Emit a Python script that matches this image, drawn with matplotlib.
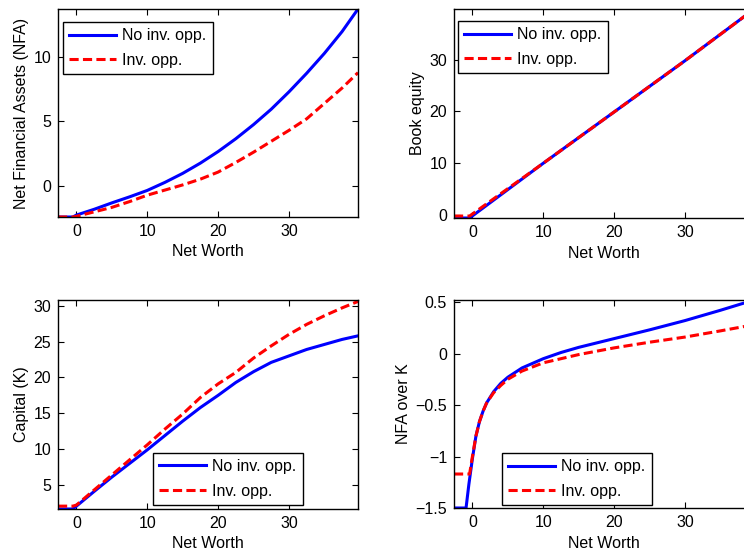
import matplotlib
matplotlib.use("Agg")
import matplotlib.pyplot as plt

plt.rcParams['font.family'] = ['Liberation Sans', 'DejaVu Sans']
plt.rcParams['font.size'] = 11.5

# net worth grid (x) for each panel
nw_nfa = [-2.6, -0.5, 0, 2.5, 5, 7.5, 10, 12.5, 15, 17.5, 20, 22.5, 25, 27.5, 30, 32.5, 35, 37.5, 39.75]
nfa_no = [-2.45, -2.45, -2.3, -1.85, -1.35, -0.88, -0.38, 0.25, 0.95, 1.75, 2.65, 3.65, 4.75, 5.95, 7.3, 8.75, 10.3, 12.0, 13.76]
nfa_inv = [-2.45, -2.45, -2.4, -2.05, -1.7, -1.25, -0.75, -0.35, 0.05, 0.5, 1.05, 1.8, 2.6, 3.45, 4.3, 5.2, 6.4, 7.6, 8.8]

nw_be = [-2.6, -0.4, 10, 20, 30, 39.8]
be_no = [-0.58, -0.58, 10.0, 19.9, 29.8, 39.8]
be_inv = [-0.2, -0.2, 10.0, 19.9, 29.8, 39.8]

nw_k = [-2.6, -0.5, 0, 2.5, 5, 7.5, 10, 12.5, 15, 17.5, 20, 22.5, 25, 27.5, 30, 32.5, 35, 37.5, 39.75]
k_no = [1.65, 1.65, 2.05, 4.1, 6.1, 8.0, 9.9, 11.9, 13.9, 15.8, 17.5, 19.3, 20.8, 22.1, 23.0, 23.9, 24.6, 25.3, 25.8]
k_inv = [2.05, 2.05, 2.2, 4.3, 6.4, 8.5, 10.6, 12.8, 14.9, 17.2, 19.1, 20.7, 22.7, 24.4, 26.0, 27.4, 28.6, 29.7, 30.6]

nw_r_no = [-2.6, -0.9, -0.5, 0, 0.5, 1, 1.5, 2, 3, 4, 5, 7, 10, 12.5, 15, 20, 25, 30, 35, 39.75]
r_no = [-1.5, -1.5, -1.27, -1.02, -0.8, -0.66, -0.56, -0.48, -0.37, -0.29, -0.23, -0.14, -0.05, 0.01, 0.06, 0.145, 0.23, 0.32, 0.42, 0.52]
nw_r_inv = [-2.6, -0.4, 0, 0.5, 1, 1.5, 2, 3, 4, 5, 7, 10, 12.5, 15, 20, 25, 30, 35, 39.75]
r_inv = [-1.17, -1.17, -1.0, -0.8, -0.66, -0.56, -0.48, -0.38, -0.31, -0.25, -0.17, -0.09, -0.05, -0.01, 0.055, 0.11, 0.16, 0.22, 0.28]

labels = ["No inv. opp.", "Inv. opp."]
xlim = (-2.6, 39.75)

fig = plt.figure(figsize=(7.44, 5.55), dpi=100)
W = 300 / 744
boxes = [
    (58 / 744, 1 - 217 / 555, W, 208 / 555),
    (454 / 744, 1 - 218 / 555, W, 209 / 555),
    (58 / 744, 1 - 509 / 555, W, 209 / 555),
    (454 / 744, 1 - 508 / 555, W, 208 / 555),
]

panels = [
    (nw_nfa, nfa_no, nw_nfa, nfa_inv, "Net Financial Assets (NFA)", (-2.45, 13.76), [0, 5, 10]),
    (nw_be, be_no, nw_be, be_inv, "Book equity", (-0.58, 39.8), [0, 10, 20, 30]),
    (nw_k, k_no, nw_k, k_inv, "Capital (K)", (1.65, 30.8), [5, 10, 15, 20, 25, 30]),
    (nw_r_no, r_no, nw_r_inv, r_inv, "NFA over K", (-1.5, 0.52), [-1.5, -1, -0.5, 0, 0.5]),
]
# legend corner (axes fraction) and which corner it is
legpos = [("upper left", (0.017, 0.9375)), ("upper left", (0.013, 0.943)),
          ("lower left", (0.317, 0.019)), ("lower left", (0.16, 0.014))]

for i, (x1, y1, x2, y2, ylab, ylim, yt) in enumerate(panels):
    ax = fig.add_axes(boxes[i])
    ax.plot(x1, y1, color="#0000ff", lw=2.2, label=labels[0])
    ax.plot(x2, y2, color="#ff0000", lw=2.2, dashes=(3.0, 1.4), label=labels[1])
    ax.set_xlim(*xlim)
    ax.set_ylim(*ylim)
    ax.set_xticks([0, 10, 20, 30])
    ax.set_yticks(yt)
    if i == 3:
        ax.set_yticklabels(["\u22121.5", "\u22121", "\u22120.5", "0", "0.5"])
    ax.tick_params(direction="in", top=True, right=True, length=4, width=0.8, pad=5)
    for s in ax.spines.values():
        s.set_linewidth(1.0)
    ax.set_xlabel("Net Worth", labelpad=4)
    ax.set_ylabel(ylab, labelpad=3)
    loc, anc = legpos[i]
    leg = ax.legend(loc=loc, bbox_to_anchor=anc, borderaxespad=0,
                    handlelength=2.9, handletextpad=0.4, borderpad=0.4,
                    labelspacing=0.6, fancybox=False, framealpha=1)
    leg.get_frame().set_edgecolor("black")
    leg.get_frame().set_linewidth(1.0)

fig.savefig("out.png", dpi=100)
